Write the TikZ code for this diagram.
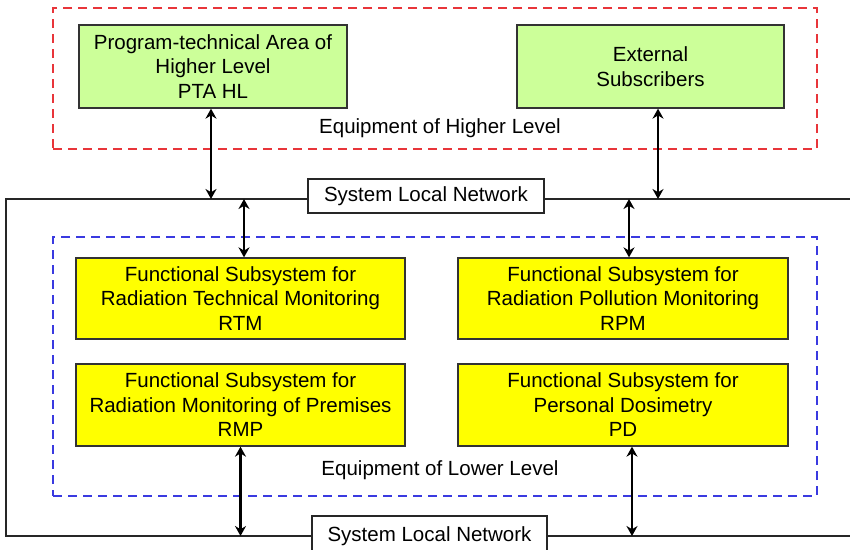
\documentclass[tikz,border=0pt]{standalone}
\usepackage{fontspec}
\setmainfont{Liberation Sans}
\usetikzlibrary{arrows.meta}
\definecolor{boxgreen}{HTML}{CCFF99}
\definecolor{boxyellow}{HTML}{FFFF00}
\definecolor{dashred}{HTML}{E8353A}
\definecolor{dashblue}{HTML}{3A3AE0}
\begin{document}
\begin{tikzpicture}[x=1pt,y=-1pt,
 txt/.style={font=\fontsize{20.5}{24.5}\selectfont},
 box/.style={txt, draw=black!80, line width=1.3pt, align=center, inner sep=0pt},
 greenbox/.style={box, fill=boxgreen},
 yellowbox/.style={box, fill=boxyellow},
 grp/.style={line width=1.3pt, dash pattern=on 9pt off 6pt, inner sep=0pt},
 net/.style={line width=1.2pt, draw=black!85},
 link/.style={line width=2.4pt, {Stealth[length=10pt,width=11pt]}-{Stealth[length=10pt,width=11pt]}},
 netlbl/.style={txt, draw=black!85, fill=white, line width=1.2pt, inner sep=0pt}
]
\useasboundingbox (0,0) rectangle (850,549);
\clip (0,0) rectangle (850,549);
% groups
\node[grp, draw=dashred, minimum width=764pt, minimum height=141pt] (hi) at (435,78.5) {};
\node[grp, draw=dashblue, minimum width=764pt, minimum height=259pt] (lo) at (435,366.5) {};
\node[txt] (hilbl) at (440,128) {Equipment of Higher Level};
\node[txt] (lolbl) at (440,470) {Equipment of Lower Level};
% boxes
\node[greenbox, minimum width=268pt, minimum height=83pt] (pta) at (213,66.5) {Program-technical Area of\\Higher Level\\PTA HL};
\node[greenbox, minimum width=267pt, minimum height=83pt] (ext) at (650.5,66.5) {External\\Subscribers};
\node[yellowbox, minimum width=329pt, minimum height=81pt] (rtm) at (240.5,298.5) {Functional Subsystem for\\Radiation Technical Monitoring\\RTM};
\node[yellowbox, minimum width=329pt, minimum height=82pt] (rmp) at (240.5,405) {Functional Subsystem for\\Radiation Monitoring of Premises\\RMP};
\node[yellowbox, minimum width=330pt, minimum height=81pt] (rpm) at (623,298.5) {Functional Subsystem for\\Radiation Pollution Monitoring\\RPM};
\node[yellowbox, minimum width=330pt, minimum height=82pt] (pd) at (623,405) {Functional Subsystem for\\Personal Dosimetry\\PD};
% network
\coordinate (nl1) at (6,199);
\coordinate (nr1) at (852,199);
\coordinate (nl2) at (6,536);
\coordinate (nr2) at (852,536);
\node[netlbl, minimum width=236pt, minimum height=34pt] (net1) at (426,196) {System Local Network};
\node[netlbl, minimum width=235pt, minimum height=40pt] (net2) at (429.5,536) {System Local Network};
\draw[net] (net1.east |- nr1) -- (nr1);
\draw[net] (net1.west |- nl1) -- (nl1) -- (nl2) -- (net2.west |- nl2);
\draw[net] (net2.east |- nr2) -- (nr2);
% links
\draw[link] ([xshift=-2pt]pta.south) -- ([xshift=-2pt]pta.south |- nl1);
\draw[link] ([xshift=7.5pt]ext.south) -- ([xshift=7.5pt]ext.south |- nr1);
\draw[link] ([xshift=3.5pt]rtm.north |- nl1) -- ([xshift=3.5pt]rtm.north);
\draw[link] ([xshift=6pt]rpm.north |- nr1) -- ([xshift=6pt]rpm.north);
\draw[link] (rmp.south) -- (rmp.south |- nl2);
\draw[link] ([xshift=9pt]pd.south) -- ([xshift=9pt]pd.south |- nr2);
\end{tikzpicture}
\end{document}
